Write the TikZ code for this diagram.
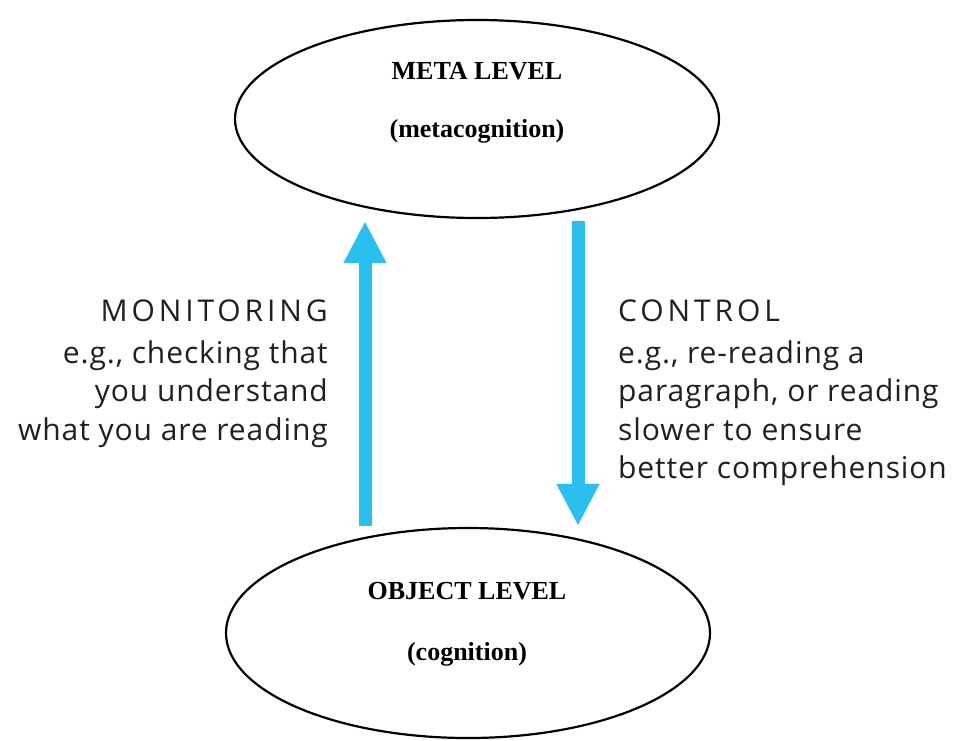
\documentclass[tikz,border=0pt]{standalone}
\usepackage{fontspec}
\setmainfont{Liberation Serif}
\newfontfamily\notefont[LetterSpace=3]{Open Sans}
\newfontfamily\headfont[LetterSpace=13]{Open Sans}
\usetikzlibrary{arrows.meta}
\usetikzlibrary{shapes.geometric}
\definecolor{flowblue}{HTML}{29BFEF}
\definecolor{notegray}{HTML}{231F20}

\begin{document}
\begin{tikzpicture}[
    x=1pt, y=-1pt,
    level/.style={ellipse, draw=black, line width=2.2pt, minimum width=484pt, minimum height=198pt, inner sep=0pt},
    level title/.style={font=\fontsize{26}{30}\selectfont\bfseries, inner sep=0pt},
    flow/.style={draw=flowblue, line width=13pt, -{Triangle[width=40pt,length=42pt]}},
    note/.style={font=\notefont\fontsize{30}{38.5}\selectfont, text=notegray, inner sep=0pt},
    ]
    \useasboundingbox (0,0) rectangle (953,740);

    % the two levels
    \node[level] (meta) at (477,119) {};
    \node[level, minimum height=210pt] (object) at (468,633) {};
    \node[level title] (metaname) at (477,71) {META LEVEL};
    \node[level title] (metasub) at (477,131) {(metacognition)};
    \node[level title] (objectname) at (467,591) {OBJECT LEVEL};
    \node[level title] (objectsub) at (467,654) {(cognition)};

    % arrows
    \coordinate (upx) at (365,0);
    \coordinate (downx) at (578,0);
    \draw[flow, shorten <=1pt, shorten >=2pt] (object.north -| upx) -- (meta.south -| upx);
    \draw[flow, shorten <=2pt, shorten >=1pt] (meta.south -| downx) -- (object.north -| downx);

    % notes
    \node[note, anchor=north east, align=right] (monitor) at (328,300)
        {{\headfont MONITORING}\\[3pt]e.g., checking that\\you understand\\what you are reading};
    \node[note, anchor=north west, align=left] (control) at (618,300)
        {{\headfont CONTROL}\\[3pt]e.g., re-reading a\\paragraph, or reading\\slower to ensure\\better comprehension};

\end{tikzpicture}
\end{document}
